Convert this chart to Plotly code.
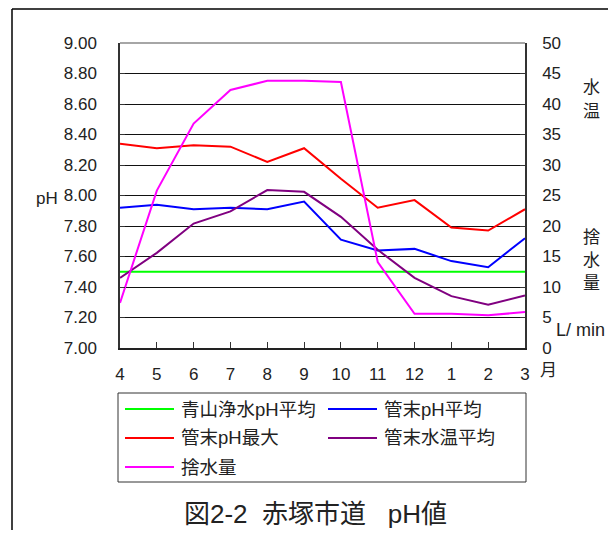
import plotly.graph_objects as go

months = ["4", "5", "6", "7", "8", "9", "10", "11", "12", "1", "2", "3"]
aoyama_ph_avg = [7.50] * 12
kanmatsu_ph_avg = [7.92, 7.94, 7.91, 7.92, 7.91, 7.96, 7.71, 7.64, 7.65, 7.57, 7.53, 7.72]
kanmatsu_ph_max = [8.34, 8.31, 8.33, 8.32, 8.22, 8.31, 8.11, 7.92, 7.97, 7.79, 7.77, 7.91]
kanmatsu_temp_avg = [11.5, 15.6, 20.4, 22.4, 25.9, 25.6, 21.5, 16.1, 11.5, 8.5, 7.1, 8.6]
sutemizu = [7.4, 25.8, 36.8, 42.3, 43.8, 43.8, 43.6, 14.1, 5.6, 5.6, 5.35, 5.9]

names = ["青山浄水pH平均", "管末pH平均", "管末pH最大", "管末水温平均", "捨水量"]
colors = ["#00ff00", "#0000ff", "#ff0000", "#800080", "#ff00ff"]
series = [aoyama_ph_avg, kanmatsu_ph_avg, kanmatsu_ph_max, kanmatsu_temp_avg, sutemizu]
axes = ["y", "y", "y", "y2", "y2"]

FONT = "Arial, Liberation Sans, Noto Sans CJK JP"
OFF = 8  # page body margin
W, H = 616 - 2 * OFF, 538 - 2 * OFF
# plot area in page pixels
L, R, T, B = 120, 525, 43, 348


def px(x):
    return (x - L) / (R - L)


def py(y):
    return (B - y) / (B - T)


fig = go.Figure()
for n, c, s, a in zip(names, colors, series, axes):
    fig.add_trace(go.Scatter(x=months, y=s, name=n, mode="lines", yaxis=a,
                             line=dict(color=c, width=2), showlegend=False))

shapes = []
annos = []
# outer frame
shapes.append(dict(type="line", xref="paper", yref="paper", x0=px(12), x1=px(640), y0=py(9), y1=py(9),
                   line=dict(color="black", width=1.5)))
shapes.append(dict(type="line", xref="paper", yref="paper", x0=px(12), x1=px(12), y0=py(9), y1=py(560),
                   line=dict(color="black", width=1.5)))
# legend box
shapes.append(dict(type="rect", xref="paper", yref="paper", x0=px(118), x1=px(526), y0=py(393), y1=py(482),
                   line=dict(color="#333", width=1)))
pos = [(125, 409), (328, 409), (125, 438), (328, 438), (125, 467)]
for (lx, ly), n, c in zip(pos, names, colors):
    shapes.append(dict(type="line", xref="paper", yref="paper", x0=px(lx), x1=px(lx + 49), y0=py(ly), y1=py(ly),
                       line=dict(color=c, width=2)))
    annos.append(dict(text=n, xref="paper", yref="paper", x=px(lx + 54), y=py(ly), xanchor="left",
                      yanchor="middle", showarrow=False, font=dict(size=18.5, color="#222", family=FONT)))

extra = [
    dict(text="pH", x=px(60), y=py(198), xanchor="right"),
    dict(text="水", x=px(591), y=py(87)),
    dict(text="温", x=px(591), y=py(111)),
    dict(text="捨", x=px(591), y=py(237)),
    dict(text="水", x=px(591), y=py(260)),
    dict(text="量", x=px(591), y=py(283)),
    dict(text="L/\u00a0min", x=px(580), y=py(330), size=18),
    dict(text="月", x=px(548), y=py(370)),
]
for a in extra:
    sz = a.pop("size", 17)
    a.update(xref="paper", yref="paper", showarrow=False, yanchor="middle",
             font=dict(size=sz, color="#222", family=FONT))
    a.setdefault("xanchor", "center")
annos += extra
annos.append(dict(text="図2-2\u00a0\u00a0赤塚市道\u00a0\u00a0\u00a0pH値", xref="paper", yref="paper",
                  x=px(315), y=py(514), showarrow=False, xanchor="center", yanchor="middle",
                  font=dict(size=26, color="#222", family=FONT)))

fig.update_layout(
    width=W, height=H,
    margin=dict(l=L - OFF, r=W - (R - OFF), t=T - OFF, b=H - (B - OFF), pad=0, autoexpand=False),
    paper_bgcolor="white", plot_bgcolor="white",
    font=dict(family=FONT, size=17, color="#222"),
    xaxis=dict(type="category", range=[0, 11], showgrid=False, ticks="inside", ticklen=6,
               tickcolor="#333", showline=True, linecolor="#222", linewidth=1.5, mirror=False,
               ticklabelstandoff=10, zeroline=False),
    yaxis=dict(range=[7.0, 9.0], dtick=0.2, tickformat=".2f", showgrid=True, gridcolor="#111",
               gridwidth=1, ticks="inside", ticklen=5, tickcolor="#333", showline=True,
               linecolor="#333", linewidth=1.5, ticklabelstandoff=18, zeroline=False),
    yaxis2=dict(range=[0, 50], dtick=5, overlaying="y", side="right", showgrid=False,
                ticks="inside", ticklen=5, tickcolor="#333", showline=True, linecolor="#333",
                linewidth=1.5, ticklabelstandoff=12, zeroline=False),
    shapes=shapes + [dict(type="line", xref="paper", yref="paper", x0=0, x1=1, y0=1, y1=1,
                          line=dict(color="#888", width=1.5))],
    annotations=annos,
)

fig.write_html("out.html")
